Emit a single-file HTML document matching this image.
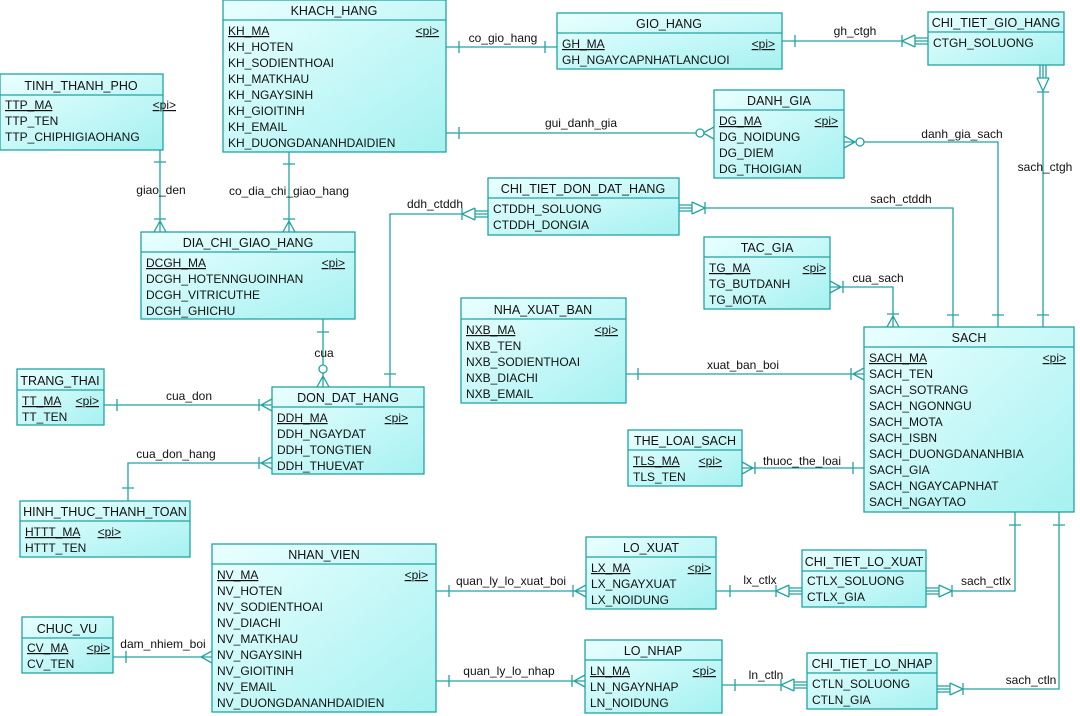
<!DOCTYPE html>
<html><head><meta charset="utf-8"><style>
html,body{margin:0;padding:0;background:#fff;}
svg{display:block;font-family:"Liberation Sans",Arial,sans-serif;font-size:12px;}
.e{fill:url(#g);stroke:#22a3a3;stroke-width:1.3}
.l{stroke:#22a3a3;stroke-width:1.3;fill:none}
text{fill:#111}
.h{text-anchor:middle;font-size:12.5px}
.u{text-decoration:underline}
.pi{text-anchor:end;text-decoration:underline}
.c{text-anchor:middle}
</style></head><body>
<svg width="1080" height="716" viewBox="0 0 1080 716">
<defs><linearGradient id="g" x1="0" y1="0" x2="1" y2="1"><stop offset="0" stop-color="#eaffff"/><stop offset="1" stop-color="#a6f1f1"/></linearGradient></defs>

<!-- connectors -->
<g class="l">
<!-- co_gio_hang -->
<path d="M446,47H557M459,41v12M545,41v12"/>
<!-- gh_ctgh -->
<path d="M782,41H902M795,35v12M928,38h-13M928,41h-13M928,44h-13M915,35v12M915,35L902,41L915,47M902,35v12"/>
<!-- ctgh sach -->
<path d="M1043,92V327M1040,65v13M1043,65v13M1046,65v13M1037,78h12M1037,78L1043,91L1049,78M1037,92h12M1037,315h12"/>
<!-- gui_danh_gia -->
<path d="M446,133H696M459,127v12M714,127L703,133L714,139"/><circle class="l" cx="700" cy="133" r="4" style="fill:#fff"/>
<!-- danh_gia_sach -->
<path d="M844,142H998V327M844,136L855,142L844,148M992,315h12"/><circle class="l" cx="860" cy="142" r="4" style="fill:#fff"/>
<!-- sach_ctddh -->
<path d="M705,208H953V327M679,205h13M679,208h13M679,211h13M692,202v12M692,202L705,208L692,214M705,202v12M947,315h12"/>
<!-- ddh_ctddh -->
<path d="M462,214H390V387M488,211h-13M488,214h-13M488,217h-13M475,208v12M475,208L462,214L475,220M462,208v12M384,374h12"/>
<!-- cua_sach -->
<path d="M830,287H893V327M830,281L841,287L830,293M843,281v12M887,327L893,316L899,327M887,314h12"/>
<!-- xuat_ban_boi -->
<path d="M626,374H864M638,368v12M864,368L853,374L864,380M851,368v12"/>
<!-- thuoc_the_loai -->
<path d="M742,468H864M742,462L753,468L742,474M755,462v12M853,462v12"/>
<!-- giao_den -->
<path d="M160,150V232M154,162h12M154,232L160,221L166,232M154,219h12"/>
<!-- co_dia_chi -->
<path d="M289,152V232M283,164h12M283,232L289,221L295,232M283,219h12"/>
<!-- cua -->
<path d="M323,319V365M323,373V387M317,332h12M317,387L323,376L329,387"/><circle class="l" cx="323" cy="369" r="4" style="fill:#fff"/>
<!-- cua_don -->
<path d="M104,405H272M117,399v12M272,399L261,405L272,411M259,399v12"/>
<!-- cua_don_hang -->
<path d="M272,463H128V501M272,457L261,463L272,469M259,457v12M122,488h12"/>
<!-- dam_nhiem_boi -->
<path d="M113,657H212M126,651v12M212,651L201,657L212,663"/>
<!-- quan_ly_lo_xuat_boi -->
<path d="M436,591H586M449,585v12M586,585L575,591L586,597M573,585v12"/>
<!-- lx_ctlx -->
<path d="M716,591H776M730,585v12M802,588h-13M802,591h-13M802,594h-13M789,585v12M789,585L776,591L789,597M776,585v12"/>
<!-- sach_ctlx -->
<path d="M952,591H1015V512M926,588h13M926,591h13M926,594h13M939,585v12M939,585L952,591L939,597M952,585v12M1009,525h12"/>
<!-- quan_ly_lo_nhap -->
<path d="M436,681H585M449,675v12M585,675L574,681L585,687M572,675v12"/>
<!-- ln_ctln -->
<path d="M722,685H781M735,679v12M807,682h-13M807,685h-13M807,688h-13M794,679v12M794,679L781,685L794,691M781,679v12"/>
<!-- sach_ctln -->
<path d="M963,689H1059V512M937,686h13M937,689h13M937,692h13M950,683v12M950,683L963,689L950,695M963,683v12M1053,525h12"/>
</g>

<!-- connector labels -->
<g>
<text class="c" x="503" y="42">co_gio_hang</text>
<text class="c" x="855" y="35">gh_ctgh</text>
<text class="c" x="1045" y="171">sach_ctgh</text>
<text class="c" x="581" y="127">gui_danh_gia</text>
<text class="c" x="962" y="138">danh_gia_sach</text>
<text class="c" x="901" y="203">sach_ctddh</text>
<text class="c" x="435" y="208">ddh_ctddh</text>
<text class="c" x="878" y="282">cua_sach</text>
<text class="c" x="743" y="369">xuat_ban_boi</text>
<text class="c" x="802" y="465">thuoc_the_loai</text>
<text class="c" x="161" y="194">giao_den</text>
<text class="c" x="289" y="195">co_dia_chi_giao_hang</text>
<text class="c" x="324" y="357">cua</text>
<text class="c" x="189" y="400">cua_don</text>
<text class="c" x="176" y="458">cua_don_hang</text>
<text class="c" x="163" y="648">dam_nhiem_boi</text>
<text class="c" x="511" y="585">quan_ly_lo_xuat_boi</text>
<text class="c" x="760" y="584">lx_ctlx</text>
<text class="c" x="986" y="585">sach_ctlx</text>
<text class="c" x="509" y="675">quan_ly_lo_nhap</text>
<text class="c" x="766" y="679">ln_ctln</text>
<text class="c" x="1031" y="684">sach_ctln</text>
</g>

<!-- KHACH_HANG -->
<rect class="e" x="223" y="0" width="223" height="152"/><path class="l" d="M223,20H446"/>
<text class="h" x="334" y="15">KHACH_HANG</text>
<text x="228" y="35" class="u">KH_MA</text><text class="pi" x="439" y="35">&lt;pi&gt;</text>
<text x="228" y="51">KH_HOTEN</text><text x="228" y="67">KH_SODIENTHOAI</text><text x="228" y="83">KH_MATKHAU</text><text x="228" y="99">KH_NGAYSINH</text><text x="228" y="115">KH_GIOITINH</text><text x="228" y="131">KH_EMAIL</text><text x="228" y="147">KH_DUONGDANANHDAIDIEN</text>

<!-- GIO_HANG -->
<rect class="e" x="557" y="13" width="225" height="56"/><path class="l" d="M557,33H782"/>
<text class="h" x="669" y="28">GIO_HANG</text>
<text x="562" y="48" class="u">GH_MA</text><text class="pi" x="775" y="48">&lt;pi&gt;</text>
<text x="562" y="64">GH_NGAYCAPNHATLANCUOI</text>

<!-- CHI_TIET_GIO_HANG -->
<rect class="e" x="928" y="12" width="136" height="53"/><path class="l" d="M928,32H1064"/>
<text class="h" x="996" y="27">CHI_TIET_GIO_HANG</text>
<text x="933" y="47">CTGH_SOLUONG</text>

<!-- TINH_THANH_PHO -->
<rect class="e" x="0" y="74" width="163" height="76"/><path class="l" d="M0,95H163"/>
<text class="h" x="81" y="90">TINH_THANH_PHO</text>
<text x="5" y="109" class="u">TTP_MA</text><text class="pi" x="176" y="109" style="text-anchor:end">&lt;pi&gt;</text>
<text x="5" y="125">TTP_TEN</text><text x="5" y="141">TTP_CHIPHIGIAOHANG</text>

<!-- DANH_GIA -->
<rect class="e" x="714" y="90" width="130" height="88"/><path class="l" d="M714,110H844"/>
<text class="h" x="779" y="105">DANH_GIA</text>
<text x="719" y="125" class="u">DG_MA</text><text class="pi" x="838" y="125">&lt;pi&gt;</text>
<text x="719" y="141">DG_NOIDUNG</text><text x="719" y="157">DG_DIEM</text><text x="719" y="173">DG_THOIGIAN</text>

<!-- CHI_TIET_DON_DAT_HANG -->
<rect class="e" x="488" y="178" width="191" height="57"/><path class="l" d="M488,198H679"/>
<text class="h" x="583" y="193">CHI_TIET_DON_DAT_HANG</text>
<text x="493" y="213">CTDDH_SOLUONG</text><text x="493" y="229">CTDDH_DONGIA</text>

<!-- DIA_CHI_GIAO_HANG -->
<rect class="e" x="141" y="232" width="214" height="87"/><path class="l" d="M141,252H355"/>
<text class="h" x="248" y="247">DIA_CHI_GIAO_HANG</text>
<text x="146" y="267" class="u">DCGH_MA</text><text class="pi" x="345" y="267">&lt;pi&gt;</text>
<text x="146" y="283">DCGH_HOTENNGUOINHAN</text><text x="146" y="299">DCGH_VITRICUTHE</text><text x="146" y="315">DCGH_GHICHU</text>

<!-- TAC_GIA -->
<rect class="e" x="704" y="237" width="126" height="72"/><path class="l" d="M704,257H830"/>
<text class="h" x="767" y="252">TAC_GIA</text>
<text x="709" y="272" class="u">TG_MA</text><text class="pi" x="826" y="272">&lt;pi&gt;</text>
<text x="709" y="288">TG_BUTDANH</text><text x="709" y="304">TG_MOTA</text>

<!-- NHA_XUAT_BAN -->
<rect class="e" x="461" y="298" width="165" height="105"/><path class="l" d="M461,319H626"/>
<text class="h" x="543" y="314">NHA_XUAT_BAN</text>
<text x="466" y="334" class="u">NXB_MA</text><text class="pi" x="618" y="334">&lt;pi&gt;</text>
<text x="466" y="350">NXB_TEN</text><text x="466" y="366">NXB_SODIENTHOAI</text><text x="466" y="382">NXB_DIACHI</text><text x="466" y="398">NXB_EMAIL</text>

<!-- SACH -->
<rect class="e" x="864" y="327" width="210" height="185"/><path class="l" d="M864,347H1074"/>
<text class="h" x="969" y="342">SACH</text>
<text x="869" y="362" class="u">SACH_MA</text><text class="pi" x="1066" y="362">&lt;pi&gt;</text>
<text x="869" y="378">SACH_TEN</text><text x="869" y="394">SACH_SOTRANG</text><text x="869" y="410">SACH_NGONNGU</text><text x="869" y="426">SACH_MOTA</text><text x="869" y="442">SACH_ISBN</text><text x="869" y="458">SACH_DUONGDANANHBIA</text><text x="869" y="474">SACH_GIA</text><text x="869" y="490">SACH_NGAYCAPNHAT</text><text x="869" y="506">SACH_NGAYTAO</text>

<!-- TRANG_THAI -->
<rect class="e" x="17" y="369" width="87" height="56"/><path class="l" d="M17,390H104"/>
<text class="h" x="60" y="385">TRANG_THAI</text>
<text x="22" y="405" class="u">TT_MA</text><text class="pi" x="99" y="405">&lt;pi&gt;</text>
<text x="22" y="421">TT_TEN</text>

<!-- DON_DAT_HANG -->
<rect class="e" x="272" y="387" width="152" height="87"/><path class="l" d="M272,407H424"/>
<text class="h" x="348" y="402">DON_DAT_HANG</text>
<text x="277" y="422" class="u">DDH_MA</text><text class="pi" x="408" y="422">&lt;pi&gt;</text>
<text x="277" y="438">DDH_NGAYDAT</text><text x="277" y="454">DDH_TONGTIEN</text><text x="277" y="470">DDH_THUEVAT</text>

<!-- THE_LOAI_SACH -->
<rect class="e" x="628" y="430" width="114" height="56"/><path class="l" d="M628,450H742"/>
<text class="h" x="685" y="445">THE_LOAI_SACH</text>
<text x="633" y="465" class="u">TLS_MA</text><text class="pi" x="722" y="465">&lt;pi&gt;</text>
<text x="633" y="481">TLS_TEN</text>

<!-- HINH_THUC_THANH_TOAN -->
<rect class="e" x="20" y="501" width="170" height="56"/><path class="l" d="M20,521H190"/>
<text class="h" x="105" y="516">HINH_THUC_THANH_TOAN</text>
<text x="25" y="536" class="u">HTTT_MA</text><text class="pi" x="121" y="536">&lt;pi&gt;</text>
<text x="25" y="552">HTTT_TEN</text>

<!-- NHAN_VIEN -->
<rect class="e" x="212" y="544" width="224" height="168"/><path class="l" d="M212,564H436"/>
<text class="h" x="324" y="559">NHAN_VIEN</text>
<text x="217" y="579" class="u">NV_MA</text><text class="pi" x="428" y="579">&lt;pi&gt;</text>
<text x="217" y="595">NV_HOTEN</text><text x="217" y="611">NV_SODIENTHOAI</text><text x="217" y="627">NV_DIACHI</text><text x="217" y="643">NV_MATKHAU</text><text x="217" y="659">NV_NGAYSINH</text><text x="217" y="675">NV_GIOITINH</text><text x="217" y="691">NV_EMAIL</text><text x="217" y="707">NV_DUONGDANANHDAIDIEN</text>

<!-- LO_XUAT -->
<rect class="e" x="586" y="537" width="130" height="72"/><path class="l" d="M586,557H716"/>
<text class="h" x="651" y="552">LO_XUAT</text>
<text x="591" y="572" class="u">LX_MA</text><text class="pi" x="711" y="572">&lt;pi&gt;</text>
<text x="591" y="588">LX_NGAYXUAT</text><text x="591" y="604">LX_NOIDUNG</text>

<!-- CHI_TIET_LO_XUAT -->
<rect class="e" x="802" y="550" width="124" height="57"/><path class="l" d="M802,571H926"/>
<text class="h" x="864" y="566">CHI_TIET_LO_XUAT</text>
<text x="807" y="585">CTLX_SOLUONG</text><text x="807" y="601">CTLX_GIA</text>

<!-- CHUC_VU -->
<rect class="e" x="22" y="617" width="91" height="56"/><path class="l" d="M22,638H113"/>
<text class="h" x="67" y="633">CHUC_VU</text>
<text x="27" y="652" class="u">CV_MA</text><text class="pi" x="110" y="652">&lt;pi&gt;</text>
<text x="27" y="668">CV_TEN</text>

<!-- LO_NHAP -->
<rect class="e" x="585" y="640" width="137" height="73"/><path class="l" d="M585,660H722"/>
<text class="h" x="653" y="655">LO_NHAP</text>
<text x="590" y="675" class="u">LN_MA</text><text class="pi" x="716" y="675">&lt;pi&gt;</text>
<text x="590" y="691">LN_NGAYNHAP</text><text x="590" y="707">LN_NOIDUNG</text>

<!-- CHI_TIET_LO_NHAP -->
<rect class="e" x="807" y="653" width="130" height="56"/><path class="l" d="M807,673H937"/>
<text class="h" x="872" y="668">CHI_TIET_LO_NHAP</text>
<text x="812" y="688">CTLN_SOLUONG</text><text x="812" y="704">CTLN_GIA</text>
</svg>
</body></html>
